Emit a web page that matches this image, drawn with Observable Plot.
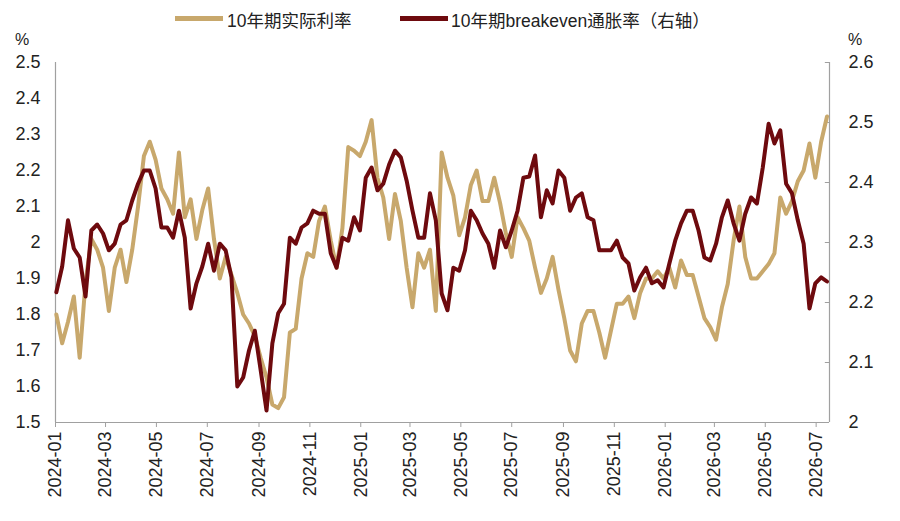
<!DOCTYPE html>
<html>
<head>
<meta charset="utf-8">
<script src="https://cdn.jsdelivr.net/npm/d3@7"></script>
<script src="https://cdn.jsdelivr.net/npm/@observablehq/plot@0.6"></script>
<style>
  html, body { margin: 0; padding: 0; background: #fff; }
  #wrap { position: relative; width: 900px; height: 521px; font-family: "Liberation Sans", Arial, sans-serif; color: #222; }
  .abs { position: absolute; white-space: nowrap; }
  .sw { position: absolute; height: 5px; }
  .lg { font-size: 17.5px; font-family: "Liberation Sans", "Noto Sans CJK SC", sans-serif; }
</style>
</head>
<body>
<div id="wrap">
  <div class="sw" style="left:175px; top:16px; width:48px; background:#C8A86C;"></div>
  <div class="abs lg" style="left:227px; top:7px;">10年期实际利率</div>
  <div class="sw" style="left:400px; top:16px; width:48px; background:#6E0A0E;"></div>
  <div class="abs lg" style="left:451px; top:7px;">10年期breakeven通胀率（右轴）</div>
  <div class="abs" style="left:15px; top:31px; font-size:16px;">%</div>
  <div class="abs" style="left:848px; top:31px; font-size:16px;">%</div>
  <div id="chart" style="position:absolute; left:0; top:0;"></div>
</div>
<script>
// Weekly observations starting 2024-01-02
const startDate = "2024-01-02";
const stepDays = 7;

// 10-year real rate (left axis, %)
const realRate = [
  1.80, 1.72, 1.78, 1.85, 1.68, 1.89, 2.01, 1.98, 1.93, 1.81,
  1.93, 1.98, 1.89, 1.98, 2.10, 2.24, 2.28, 2.23, 2.15, 2.12,
  2.08, 2.25, 2.07, 2.12, 2.01, 2.09, 2.15, 2.01, 1.90, 1.96,
  1.91, 1.86, 1.80, 1.775, 1.74, 1.68, 1.625, 1.55, 1.54, 1.57,
  1.75, 1.76, 1.90, 1.97, 1.96, 2.06, 2.10, 2.005, 1.93, 2.04,
  2.265, 2.255, 2.24, 2.28, 2.34, 2.18, 2.125, 2.01, 2.135, 2.06,
  1.93, 1.82, 1.97, 1.93, 1.98, 1.81, 2.25, 2.18, 2.13, 2.02,
  2.07, 2.16, 2.20, 2.115, 2.115, 2.18, 2.11, 2.025, 1.96, 2.07,
  2.04, 2.005, 1.93, 1.86, 1.90, 1.96, 1.87, 1.79, 1.70, 1.67,
  1.775, 1.81, 1.81, 1.75, 1.68, 1.755, 1.83, 1.83, 1.85, 1.79,
  1.86, 1.90, 1.90, 1.92, 1.90, 1.93, 1.875, 1.95, 1.91, 1.91,
  1.85, 1.79, 1.765, 1.73, 1.82, 1.885, 2.005, 2.10, 1.96, 1.90,
  1.90, 1.92, 1.94, 1.97, 2.125, 2.08, 2.115, 2.17, 2.20, 2.275,
  2.18, 2.28, 2.35
];

// 10-year breakeven inflation (right axis, %)
const breakeven = [
  2.217, 2.26, 2.337, 2.29, 2.275, 2.21, 2.32, 2.33, 2.315, 2.287,
  2.298, 2.33, 2.337, 2.37, 2.398, 2.42, 2.42, 2.39, 2.325, 2.325,
  2.308, 2.353, 2.308, 2.19, 2.232, 2.26, 2.298, 2.253, 2.298, 2.287,
  2.242, 2.06, 2.075, 2.12, 2.153, 2.087, 2.02, 2.132, 2.182, 2.198,
  2.308, 2.298, 2.325, 2.332, 2.353, 2.348, 2.348, 2.282, 2.258, 2.308,
  2.303, 2.342, 2.32, 2.408, 2.425, 2.387, 2.398, 2.43, 2.453, 2.442,
  2.403, 2.353, 2.308, 2.308, 2.382, 2.337, 2.215, 2.187, 2.258, 2.253,
  2.287, 2.353, 2.337, 2.315, 2.298, 2.258, 2.32, 2.292, 2.32, 2.353,
  2.408, 2.41, 2.445, 2.342, 2.387, 2.365, 2.42, 2.408, 2.353, 2.375,
  2.382, 2.342, 2.337, 2.287, 2.287, 2.287, 2.303, 2.275, 2.265, 2.22,
  2.242, 2.258, 2.232, 2.237, 2.225, 2.265, 2.303, 2.332, 2.353, 2.353,
  2.32, 2.275, 2.27, 2.298, 2.342, 2.37, 2.332, 2.303, 2.348, 2.375,
  2.365, 2.425, 2.498, 2.465, 2.487, 2.398, 2.382, 2.337, 2.298, 2.19,
  2.232, 2.242, 2.235
];

const leftTicks = [1.5, 1.6, 1.7, 1.8, 1.9, 2.0, 2.1, 2.2, 2.3, 2.4, 2.5];
const rightTicks = [2.0, 2.1, 2.2, 2.3, 2.4, 2.5, 2.6];
const xTickLabels = ["2024-01","2024-03","2024-05","2024-07","2024-09","2024-11",
  "2025-01","2025-03","2025-05","2025-07","2025-09","2025-11",
  "2026-01","2026-03","2026-05","2026-07"];

const leftDomain = [1.5, 2.5];
const rightDomain = [2.0, 2.6];
const toLeft = r => leftDomain[0] + (r - rightDomain[0]) * (leftDomain[1] - leftDomain[0]) / (rightDomain[1] - rightDomain[0]);
const toRight = l => rightDomain[0] + (l - leftDomain[0]) * (rightDomain[1] - rightDomain[0]) / (leftDomain[1] - leftDomain[0]);
const fmt = v => String(+v.toFixed(1));

const start = new Date(startDate + "T00:00:00Z");
const rows = realRate.map((v, i) => ({
  date: d3.utcDay.offset(start, i * stepDays),
  real: v,
  be: toLeft(breakeven[i])
}));

const xDomain = [new Date("2024-01-01T00:00:00Z"), new Date("2026-07-17T00:00:00Z")];
const xTicks = xTickLabels.map(s => new Date(s + "-01T00:00:00Z"));
const rightTickStart = d3.utcDay.offset(xDomain[1], -5);

const tan = "#C8A86C";
const dark = "#6E0A0E";
const axisGray = "#A0A0A0";

const chart = Plot.plot({
  width: 900,
  height: 521,
  marginTop: 62,
  marginBottom: 99,
  marginLeft: 55,
  marginRight: 71,
  style: { fontFamily: "'Liberation Sans', Arial, sans-serif", fontSize: "18px", color: "#222", background: "transparent", overflow: "visible" },
  x: { type: "utc", domain: xDomain },
  y: { domain: leftDomain },
  marks: [
    Plot.ruleX([xDomain[0]], { y1: leftDomain[0], y2: leftDomain[1], stroke: axisGray, strokeWidth: 1.2 }),
    Plot.ruleX([xDomain[1]], { y1: leftDomain[0], y2: leftDomain[1], stroke: axisGray, strokeWidth: 1.2 }),
    Plot.ruleY([leftDomain[0]], { stroke: axisGray, strokeWidth: 1.2 }),
    Plot.ruleY(rightTicks.map(toLeft), { x1: rightTickStart, x2: xDomain[1], stroke: axisGray, strokeWidth: 1 }),
    Plot.axisY({ anchor: "left", ticks: leftTicks, tickFormat: fmt, tickSize: 0, tickPadding: 15, label: null }),
    Plot.axisY({ anchor: "right", ticks: rightTicks.map(toLeft), tickFormat: d => fmt(toRight(d)), tickSize: 0, tickPadding: 19, label: null }),
    Plot.axisX({ ticks: xTicks, tickFormat: d3.utcFormat("%Y-%m"), tickRotate: -90, tickSize: 5, tickPadding: 4, stroke: axisGray, label: null }),
    Plot.lineY(rows, { x: "date", y: "real", stroke: tan, strokeWidth: 4, strokeLinejoin: "round" }),
    Plot.lineY(rows, { x: "date", y: "be", stroke: dark, strokeWidth: 4, strokeLinejoin: "round" })
  ]
});
document.getElementById("chart").appendChild(chart);
</script>
</body>
</html>
